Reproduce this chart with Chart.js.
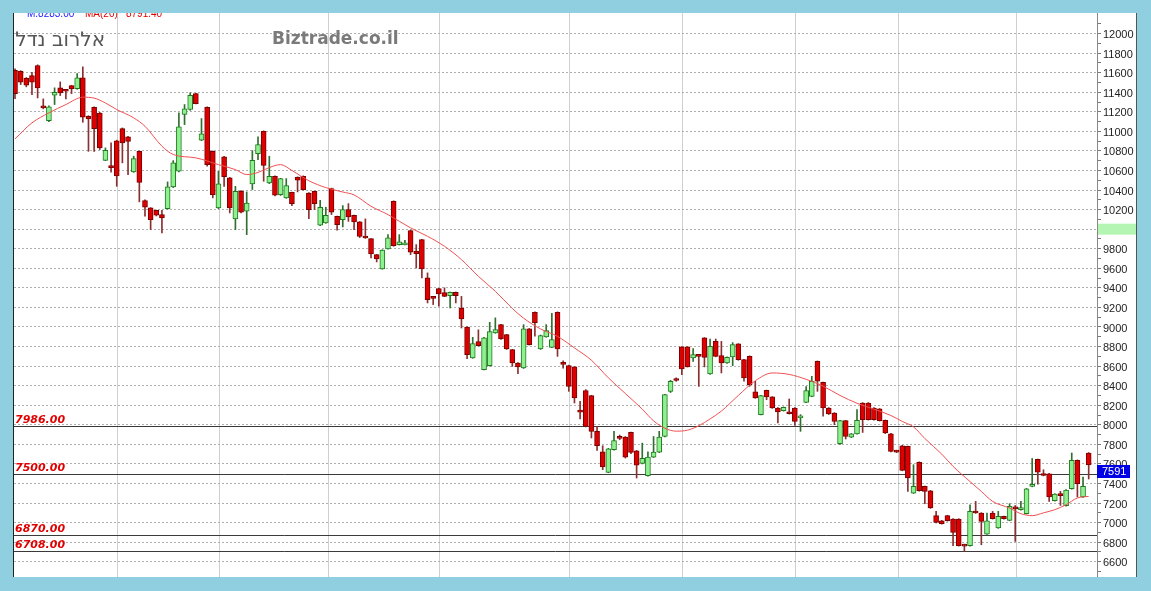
<!DOCTYPE html>
<html>
<head>
<meta charset="utf-8">
<script src="https://cdn.jsdelivr.net/npm/chart.js@4.4.1/dist/chart.umd.min.js"></script>
<style>
  html, body { margin: 0; padding: 0; background: #8fcfe0; }
  body { width: 1151px; height: 591px; position: relative; overflow: hidden; }
  #frame { position: absolute; left: 13px; top: 13px; width: 1122px; height: 564px; background: #fff;
           border-left: 1px solid #222; border-right: 1px solid #555; }
  canvas { display: block; }
</style>
</head>
<body>
<div id="frame"><canvas id="chart" width="1122" height="564"></canvas></div>
<script>
// daily candles, oldest first
const opens = [
  11625, 11614, 11543, 11570, 11673, 11255, 11110, 11369, 11445, 11425,
  11468, 11437, 11547, 11154, 11246, 11188, 10704, 10645, 10902, 11028,
  10943, 10586, 10796, 10292, 10217, 10193, 10149, 10210, 10432, 10592,
  11172, 11223, 11386, 10909, 11246, 10796, 10217, 10739, 10524, 10105,
  10388, 10183, 10463, 10773, 11001, 10473, 10541, 10353, 10320, 10377,
  10531, 10541, 10370, 10388, 10040, 10064, 10415, 10132, 10098, 10200,
  10142, 10074, 9925, 9903, 9740, 9594, 9798, 10285, 9842, 9840,
  9985, 9774, 9893, 9502, 9308, 9392, 9351, 9320, 9354, 9194,
  9000, 8684, 8850, 8564, 8605, 8940, 9024, 8922, 8768, 8632,
  8581, 8980, 9151, 8776, 8899, 8792, 9150, 8632, 8605, 8592,
  8145, 8349, 8298, 7933, 7724, 7514, 7746, 7880, 7875, 7922,
  7734, 7605, 7480, 7670, 7720, 7880, 8342, 8468, 8797, 8797,
  8683, 8715, 8888, 8520, 8853, 8707, 8632, 8694, 8827, 8666,
  8700, 8336, 8104, 8352, 8285, 8172, 8145, 8128, 8172, 8070,
  8230, 8291, 8649, 8434, 8172, 8121, 7807, 8042, 7873, 7908,
  8223, 8223, 8172, 8162, 8045, 7908, 7735, 7786, 7779, 7302,
  7617, 7370, 7326, 7071, 7019, 7071, 7036, 7036, 6775, 6764,
  7115, 7098, 6883, 7098, 6945, 7064, 7023, 7160, 7132, 7092,
  7370, 7646, 7502, 7500, 7224, 7296, 7173, 7346, 7637, 7262,
  7712
];
const highs = [
  11640, 11620, 11550, 11604, 11680, 11332, 11260, 11445, 11506, 11425,
  11470, 11591, 11659, 11160, 11250, 11195, 10831, 10882, 10910, 11035,
  10950, 10746, 10800, 10300, 10220, 10195, 10193, 10483, 10701, 11189,
  11274, 11394, 11390, 11131, 11250, 10800, 10592, 10745, 10530, 10438,
  10395, 10381, 10803, 10943, 11005, 10746, 10545, 10520, 10517, 10380,
  10535, 10545, 10375, 10390, 10295, 10224, 10420, 10135, 10241, 10261,
  10145, 10078, 10105, 9905, 9742, 9790, 9944, 10290, 9944, 9887,
  9990, 9842, 9897, 9553, 9313, 9395, 9400, 9358, 9358, 9313,
  9005, 8894, 8971, 8895, 9048, 9093, 9028, 8925, 8772, 8636,
  9024, 8985, 9155, 8918, 9024, 9140, 9155, 8655, 8610, 8595,
  8240, 8360, 8302, 7984, 7786, 7760, 7933, 7895, 7880, 7926,
  7738, 7813, 7724, 7880, 7933, 8312, 8455, 8480, 8800, 8800,
  8778, 8720, 8892, 8877, 8877, 8853, 8695, 8840, 8830, 8670,
  8705, 8445, 8302, 8355, 8288, 8175, 8183, 8264, 8176, 8104,
  8390, 8496, 8653, 8438, 8176, 8125, 8046, 8046, 7912, 8155,
  8227, 8227, 8176, 8166, 8049, 7912, 7740, 7790, 7783, 7592,
  7621, 7374, 7330, 7115, 7023, 7075, 7040, 7040, 6780, 7183,
  7217, 7102, 7098, 7115, 7115, 7068, 7193, 7175, 7217, 7350,
  7656, 7650, 7540, 7504, 7296, 7320, 7337, 7712, 7641, 7466,
  7716
];
const lows = [
  11335, 11478, 11455, 11376, 11342, 11230, 11100, 11274, 11366, 11332,
  11386, 11430, 11093, 10796, 10796, 10814, 10700, 10582, 10438, 10678,
  10558, 10580, 10279, 10132, 9996, 10135, 9962, 10205, 10425, 10585,
  11069, 11215, 11280, 10905, 10643, 10320, 10210, 10438, 10166, 9996,
  10165, 9944, 10405, 10711, 10490, 10465, 10340, 10345, 10315, 10241,
  10381, 10400, 10108, 10200, 10035, 10060, 10149, 9989, 10023, 10080,
  9996, 9914, 9905, 9706, 9665, 9590, 9795, 9825, 9838, 9838,
  9740, 9603, 9502, 9246, 9229, 9212, 9310, 9194, 9246, 8990,
  8677, 8680, 8805, 8560, 8600, 8935, 8872, 8770, 8597, 8523,
  8576, 8815, 8906, 8770, 8895, 8788, 8700, 8580, 8342, 8223,
  8060, 7978, 7865, 7738, 7541, 7510, 7740, 7847, 7660, 7705,
  7456, 7600, 7475, 7665, 7715, 7875, 8330, 8445, 8513, 8590,
  8649, 8393, 8592, 8515, 8695, 8530, 8628, 8605, 8660, 8445,
  8393, 8270, 8100, 8257, 8168, 8019, 8140, 8110, 7994, 7933,
  8225, 8287, 8342, 8087, 8105, 8001, 7800, 7855, 7869, 7904,
  7922, 8048, 8048, 8038, 7910, 7724, 7715, 7530, 7319, 7298,
  7322, 7193, 7145, 6998, 6985, 7015, 6764, 6760, 6706, 6760,
  7094, 6774, 6879, 7036, 6941, 7036, 7019, 6808, 7128, 7088,
  7366, 7394, 7478, 7217, 7220, 7176, 7169, 7342, 7262, 7258,
  7446
];
const closes = [
  11386, 11502, 11471, 11502, 11445, 11240, 11250, 11400, 11394, 11410,
  11437, 11547, 11144, 11127, 11028, 10831, 10807, 10630, 10545, 10882,
  10898, 10722, 10479, 10224, 10098, 10142, 10115, 10432, 10678, 11046,
  11230, 11369, 11284, 10974, 10660, 10353, 10463, 10538, 10217, 10388,
  10173, 10268, 10705, 10865, 10653, 10541, 10347, 10517, 10445, 10261,
  10500, 10405, 10200, 10261, 10224, 10142, 10173, 10047, 10200, 10125,
  10074, 9927, 9910, 9747, 9696, 9787, 9911, 9832, 9870, 9855,
  9764, 9750, 9594, 9280, 9293, 9338, 9313, 9354, 9320, 9082,
  8717, 8830, 8810, 8890, 8952, 8973, 8878, 8776, 8632, 8591,
  8980, 8820, 9045, 8913, 8963, 8870, 8776, 8617, 8393, 8274,
  8130, 7984, 7933, 7786, 7569, 7755, 7838, 7862, 7670, 7718,
  7588, 7656, 7670, 7722, 7875, 8308, 8445, 8453, 8571, 8592,
  8717, 8700, 8690, 8802, 8700, 8632, 8690, 8820, 8666, 8479,
  8410, 8274, 8298, 8285, 8172, 8131, 8179, 8113, 8035, 8087,
  8349, 8445, 8445, 8172, 8111, 8035, 8042, 7880, 7908, 8045,
  8052, 8052, 8052, 8042, 7916, 7728, 7720, 7534, 7456, 7370,
  7326, 7319, 7149, 7002, 6989, 7019, 6900, 6764, 6760, 7115,
  7098, 7013, 7019, 7040, 7064, 7040, 7166, 7140, 7149, 7346,
  7385, 7516, 7482, 7262, 7292, 7275, 7333, 7637, 7398, 7370,
  7591
];

// MA(20) (candle index -> value)
const maIndex = [0, 3, 6, 9, 12, 14, 16, 18, 21, 23, 26, 28, 32, 36, 39, 41, 43, 45, 47, 49,
  52, 55, 58, 60, 63, 66, 70, 73, 76, 79, 82, 85, 88, 90, 93, 96, 99, 102, 105, 108,
  111, 113, 115, 117, 119, 121, 123, 125, 128, 131, 134, 137, 140, 143, 146, 149, 152, 155, 157, 159,
  161, 164, 166, 169, 171, 173, 176, 178, 180, 182, 184, 186, 188, 190];
const maValues = [10923, 11087, 11189, 11274, 11349, 11340, 11290, 11223, 11138, 11052, 10848, 10763, 10729, 10660, 10609, 10558, 10580, 10630, 10660, 10600,
  10495, 10425, 10380, 10350, 10234, 10149, 10013, 9927, 9825, 9689, 9518, 9365, 9190, 9090, 8980, 8904, 8786, 8660, 8480, 8320,
  8160, 8040, 7965, 7935, 7945, 7990, 8060, 8140, 8300, 8450, 8530, 8515, 8465, 8395, 8300, 8220, 8160, 8095, 8035, 7978,
  7860, 7700, 7575, 7420, 7319, 7217, 7149, 7091, 7071, 7100, 7132, 7183, 7252, 7268];

// month separators (candle index)
const monthTicks = [18.1, 36.1, 55.4, 75.2, 98.2, 118.2, 138.2, 156.3, 177.3];

const levels = [7986, 7500, 6870, 6708];
const lastPrice = 7591;
const headerValues = ['M.8283.00', 'MA(20)', '8791.40'];

const RED_FILL = '#dc0000', RED_EDGE = '#7a0000', RED_WICK = '#8a3030';
const GREEN_FILL = '#8ef08e', GREEN_EDGE = '#1f7a1f', GREEN_WICK = '#2f6f2f';

const up = opens.map((o, i) => closes[i] >= o);
const bodies = opens.map((o, i) => ({ x: i, y: [o, closes[i]] }));
const wicks = lows.map((l, i) => ({ x: i, y: [l, highs[i]] }));
const maPoints = maIndex.map((x, k) => ({ x, y: maValues[k] }));

const overlay = {
  id: 'overlay',
  beforeDatasetsDraw(chart) {
    const { ctx, chartArea: a, scales: { y } } = chart;
    ctx.save();
    ctx.strokeStyle = '#3a3a3a';
    ctx.lineWidth = 1;
    levels.forEach(v => {
      const py = Math.round(y.getPixelForValue(v)) + 0.5;
      ctx.beginPath();
      ctx.moveTo(a.left, py);
      ctx.lineTo(a.right, py);
      ctx.stroke();
    });
    ctx.restore();
  },
  afterDraw(chart) {
    const { ctx, chartArea: a, scales: { y }, width } = chart;
    ctx.save();
    // level labels
    ctx.font = 'italic bold 11px "DejaVu Sans"';
    ctx.fillStyle = '#e00000';
    ctx.textBaseline = 'alphabetic';
    levels.forEach(v => {
      ctx.fillText(v.toFixed(2), a.left + 1, y.getPixelForValue(v) - 3);
    });
    // green marker on the axis
    const g = y.getPixelForValue(10000);
    ctx.fillStyle = '#b4f5b4';
    ctx.fillRect(a.right + 1, g - 5.5, width - a.right - 1, 11);
    // last price box
    const p = Math.round(y.getPixelForValue(lastPrice));
    ctx.fillStyle = '#0000e6';
    ctx.fillRect(a.right, p, 33, 13);
    ctx.fillStyle = '#fff';
    ctx.font = '11px "Liberation Sans"';
    ctx.textBaseline = 'middle';
    ctx.fillText(String(lastPrice), a.right + 5, p + 7);
    // header
    ctx.textBaseline = 'alphabetic';
    ctx.font = '10px "Liberation Sans"';
    ctx.fillStyle = '#1a1aff';
    ctx.fillText(headerValues[0], 13, 3.5);
    ctx.fillStyle = '#e00000';
    ctx.fillText(headerValues[1], 71, 3.5);
    ctx.fillText(headerValues[2], 112, 3.5);
    ctx.fillStyle = '#555';
    ctx.font = '20px "DejaVu Sans"';
    ctx.textAlign = 'right';
    ctx.fillText('אלרוב נדלן', 91, 33);
    ctx.textAlign = 'left';
    ctx.font = 'bold 17px "DejaVu Sans"';
    ctx.fillStyle = '#7a7a7a';
    ctx.fillText('Biztrade.co.il', 258, 31);
    ctx.restore();
  }
};

new Chart(document.getElementById('chart'), {
  type: 'bar',
  data: {
    datasets: [
      {
        type: 'line',
        data: maPoints,
        borderColor: '#f05050',
        borderWidth: 1,
        pointRadius: 0,
        cubicInterpolationMode: 'monotone',
        fill: false
      },
      {
        data: bodies,
        grouped: false,
        barThickness: 5,
        minBarLength: 2,
        borderWidth: 1,
        borderSkipped: false,
        backgroundColor: up.map(u => u ? GREEN_FILL : RED_FILL),
        borderColor: up.map(u => u ? GREEN_EDGE : RED_EDGE)
      },
      {
        data: wicks,
        grouped: false,
        barThickness: 1,
        borderWidth: 0,
        backgroundColor: up.map(u => u ? GREEN_WICK : RED_WICK)
      }
    ]
  },
  options: {
    responsive: false,
    animation: false,
    layout: { padding: 0, autoPadding: false },
    plugins: { legend: { display: false }, tooltip: { enabled: false } },
    scales: {
      x: {
        type: 'linear',
        offset: false,
        min: -0.18,
        max: 191.47,
        afterBuildTicks: s => { s.ticks = monthTicks.map(v => ({ value: v })); },
        afterFit: s => { s.height = 0; s.paddingLeft = 0; s.paddingRight = 0; },
        ticks: { display: false },
        grid: { offset: false, color: '#d0d0d0', lineWidth: 1, drawTicks: false },
        border: { display: false }
      },
      y: {
        position: 'right',
        min: 6444,
        max: 12210,
        afterBuildTicks: s => {
          const t = [];
          for (let v = 6500; v <= 12100; v += 100) t.push({ value: v });
          s.ticks = t;
        },
        afterFit: s => { s.width = 39; s.paddingTop = 0; s.paddingBottom = 0; },
        ticks: {
          autoSkip: false,
          padding: 2,
          labelOffset: 1.5,
          color: '#222',
          font: { family: 'Liberation Sans', size: 11 },
          callback: v => (v % 200 === 0 ? String(v) : '')
        },
        grid: {
          color: c => (c.tick && c.tick.value % 200 === 0 ? '#b0b0b0' : 'rgba(0,0,0,0)'),
          tickColor: '#777',
          tickLength: 4
        },
        border: { display: true, color: '#888', dash: [2, 2] }
      }
    }
  },
  plugins: [overlay]
});
</script>
</body>
</html>
